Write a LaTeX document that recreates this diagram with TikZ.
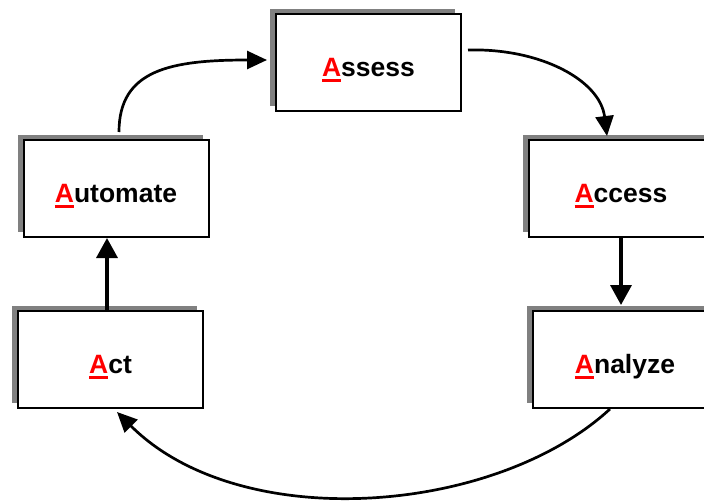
\documentclass[tikz,border=0pt]{standalone}
\usepackage{fontspec}
\setmainfont{Liberation Sans}
\usetikzlibrary{arrows.meta,shadows,calc}
\newcommand\redA{\textcolor{red}{\setbox0\hbox{A}\rlap{\rule[-5.5pt]{\wd0}{2.8pt}}A}}
\tikzset{
  stagebox/.style={draw=black, line width=2pt, fill=white, rectangle,
    minimum width=185pt, minimum height=97pt, inner sep=0pt,
    text height=28pt, text depth=0pt,
    font=\fontsize{26.5}{30}\selectfont\bfseries,
    general shadow={fill={rgb,255:red,128;green,128;blue,128}, shadow xshift=-6pt, shadow yshift=5pt}},
  curvearr/.style={line width=2.7pt, -{Triangle[length=20pt,width=18pt]}},
  vertarr/.style={line width=3.5pt, -{Triangle[length=20pt,width=21pt]}}
}
\begin{document}
\begin{tikzpicture}[x=1pt,y=-1pt]
\useasboundingbox (0,0) rectangle (704,501);
\clip (0,0) rectangle (704,501);
\node[stagebox] (assess) at (368.5,62.5) {\redA ssess};
\node[stagebox] (automate) at (116,188.5) {\redA utomate};
\node[stagebox] (act) at (110.5,359.5) {\redA ct};
\node[stagebox] (access) at (621,188.5) {\redA ccess};
\node[stagebox] (analyze) at (625,359.5) {\redA nalyze};
\coordinate (c1) at (119,132);
\coordinate (c2) at (267,60);
\coordinate (c3) at (468,50);
\coordinate (c4) at (607,136);
\coordinate (c5) at (610,409);
\coordinate (c6) at (117,412);
\draw[curvearr] (c1) .. controls (119,70) and (170,60) .. (c2);
\draw[curvearr] (c3) .. controls (540,48) and (600,80) .. (c4);
\draw[curvearr] (c5) .. controls (495,515) and (240,535) .. (c6);
\draw[vertarr] (access.south) -- ([yshift=5pt]analyze.north -| access.south);
\draw[vertarr] (act.north -| 107,0) -- (automate.south -| 107,0);
\end{tikzpicture}
\end{document}
